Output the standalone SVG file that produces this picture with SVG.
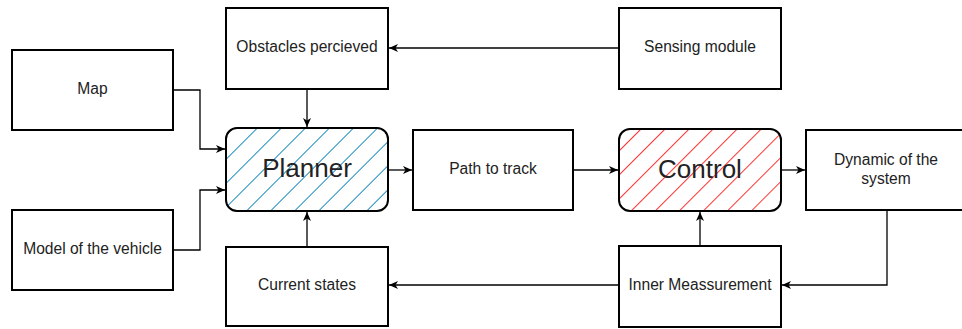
<svg xmlns="http://www.w3.org/2000/svg" width="962" height="329" viewBox="0 0 962 329">
<style>
.box{fill:#fff;stroke:#000;stroke-width:2}
.t{font-family:"Liberation Sans",Arial,sans-serif;font-size:15.6px;fill:#222;text-anchor:middle;dominant-baseline:central}
.big{font-size:26px}
.c{fill:none;stroke:#000;stroke-width:1.3}
</style>
<defs>
<pattern id="hb" patternUnits="userSpaceOnUse" width="17" height="17" patternTransform="rotate(45)">
<line x1="0" y1="0" x2="0" y2="17" stroke="#1d8ac0" stroke-width="2"/>
</pattern>
<pattern id="hr" patternUnits="userSpaceOnUse" width="17" height="17" patternTransform="rotate(45)">
<line x1="0" y1="0" x2="0" y2="17" stroke="#ff3333" stroke-width="2"/>
</pattern>
<marker id="a" markerWidth="10" markerHeight="10" refX="9" refY="5" orient="auto" markerUnits="userSpaceOnUse">
<path d="M0,1 L9,5 L0,9 L2.5,5 Z" fill="#000"/>
</marker>
</defs>
<g id="connectors">
<path class="c" d="M619,48 H389" marker-end="url(#a)"/>
<path class="c" d="M307,89 V127" marker-end="url(#a)"/>
<path class="c" d="M173,90 H200 V149 H225" marker-end="url(#a)"/>
<path class="c" d="M173,250 H200 V190 H225" marker-end="url(#a)"/>
<path class="c" d="M388,170 H412" marker-end="url(#a)"/>
<path class="c" d="M573,170 H618" marker-end="url(#a)"/>
<path class="c" d="M781,170 H805" marker-end="url(#a)"/>
<path class="c" d="M887,210 V285 H782" marker-end="url(#a)"/>
<path class="c" d="M700,246 V212" marker-end="url(#a)"/>
<path class="c" d="M619,285 H389" marker-end="url(#a)"/>
<path class="c" d="M307,247 V212" marker-end="url(#a)"/>
</g>
<g id="map"><rect class="box" x="12" y="50" width="161" height="80"/><text class="t" x="92.5" y="88">Map</text></g>
<g id="model"><rect class="box" x="12" y="210" width="161" height="80"/><text class="t" x="92.5" y="248">Model of the vehicle</text></g>
<g id="obstacles"><rect class="box" x="226" y="8" width="162" height="81"/><text class="t" x="307" y="46">Obstacles percieved</text></g>
<g id="sensing"><rect class="box" x="619" y="8" width="162" height="81"/><text class="t" x="700" y="46">Sensing module</text></g>
<g id="planner"><rect x="226" y="128" width="162" height="83" rx="11" fill="#fff"/><rect x="226" y="128" width="162" height="83" rx="11" fill="url(#hb)" stroke="#000" stroke-width="2"/><text class="t big" x="307" y="168">Planner</text></g>
<g id="path"><rect class="box" x="413" y="130" width="160" height="80"/><text class="t" x="493" y="168">Path to track</text></g>
<g id="control"><rect x="619" y="129" width="162" height="82" rx="11" fill="#fff"/><rect x="619" y="129" width="162" height="82" rx="11" fill="url(#hr)" stroke="#000" stroke-width="2"/><text class="t big" x="700" y="169">Control</text></g>
<g id="dynamic"><rect class="box" x="806" y="130" width="162" height="80"/><text class="t" x="886" y="159">Dynamic of the</text><text class="t" x="886" y="178">system</text></g>
<g id="current"><rect class="box" x="226" y="247" width="162" height="79"/><text class="t" x="307" y="284">Current states</text></g>
<g id="inner"><rect class="box" x="619" y="246" width="162" height="81"/><text class="t" x="700" y="284">Inner Meassurement</text></g>
</svg>
